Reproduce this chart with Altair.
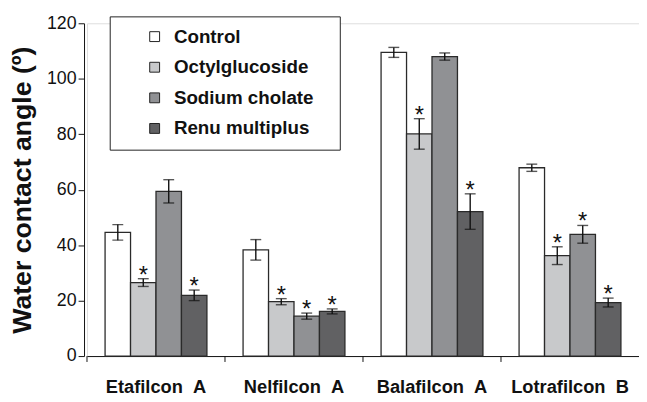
import altair as alt
import pandas as pd

lenses = ["Etafilcon\u00a0\u00a0A", "Nelfilcon\u00a0\u00a0A", "Balafilcon\u00a0\u00a0A", "Lotrafilcon\u00a0\u00a0B"]
treatments = ["Control", "Octylglucoside", "Sodium cholate", "Renu multiplus"]
colors = ["#ffffff", "#c8c9cb", "#909194", "#616163"]

control_mean = [44.6, 38.3, 109.5, 67.9]
control_err = [2.8, 3.7, 1.8, 1.3]
octyl_mean = [26.5, 19.6, 80.1, 36.2]
octyl_err = [1.4, 1.1, 5.5, 3.2]
cholate_mean = [59.4, 14.4, 108.0, 43.9]
cholate_err = [4.2, 1.1, 1.3, 3.2]
renu_mean = [21.9, 16.1, 52.1, 19.3]
renu_err = [1.9, 0.9, 6.4, 1.6]

control_sig = [False, False, False, False]
octyl_sig = [True, True, True, True]
cholate_sig = [False, True, False, True]
renu_sig = [True, True, True, True]

rows = []
for t, m, e, s in zip(
    treatments,
    [control_mean, octyl_mean, cholate_mean, renu_mean],
    [control_err, octyl_err, cholate_err, renu_err],
    [control_sig, octyl_sig, cholate_sig, renu_sig],
):
    for i, lens in enumerate(lenses):
        rows.append({"lens": lens, "treatment": t, "mean": m[i],
                     "lo": m[i] - e[i], "hi": m[i] + e[i],
                     "star": "*" if s[i] else ""})
df = pd.DataFrame(rows)

FONT = "Liberation Sans"
H = 337
W = 559

x_enc = alt.X("lens:N", sort=lenses,
              scale=alt.Scale(paddingInner=0, paddingOuter=0),
              axis=alt.Axis(title=None, ticks=False, labelAngle=0, labelFontSize=18.5,
                            labelFontWeight="bold", labelPadding=22, labelColor="#111",
                            labelFont=FONT, domainColor="#111", domainWidth=1))
xo_enc = alt.XOffset("treatment:N", sort=treatments,
                     scale=alt.Scale(paddingInner=0, paddingOuter=0.71))
y_scale = alt.Scale(domain=[0, 120], nice=False)

base = alt.Chart(df)

bars = base.mark_bar(stroke="#2a2a2a", strokeWidth=1.3).encode(
    x=x_enc,
    xOffset=xo_enc,
    y=alt.Y("mean:Q", scale=y_scale,
            axis=alt.Axis(values=[0, 20, 40, 60, 80, 100, 120], grid=False, tickSize=6,
                          labelFontSize=18, labelPadding=2, labelColor="#111", labelFont=FONT,
                          tickColor="#111", domainColor="#111", offset=3,
                          title="Water contact angle (º)", titleFont=FONT, titleFontSize=27,
                          titleFontWeight="bold", titleColor="#111", titlePadding=10)),
    color=alt.Color("treatment:N", sort=treatments,
                    scale=alt.Scale(domain=treatments, range=colors),
                    legend=alt.Legend(title="\u00a0", titleOrient="right", titleFontSize=17,
                                      titlePadding=16, orient="none", legendX=23, legendY=-7,
                                      symbolType="square", symbolSize=100,
                                      symbolStrokeColor="#222", symbolStrokeWidth=1,
                                      symbolOffset=25, labelOffset=10,
                                      labelFont=FONT, labelFontSize=19, labelFontWeight="bold",
                                      labelColor="#111", rowPadding=11, padding=11,
                                      strokeColor="#222", fillColor="#ffffff")),
)

err = base.mark_rule(color="#111", strokeWidth=1.4).encode(
    x=alt.X("lens:N", sort=lenses), xOffset=xo_enc,
    y=alt.Y("lo:Q", scale=y_scale), y2="hi:Q")

cap_hi = base.mark_tick(color="#111", size=11, thickness=1.4).encode(
    x=alt.X("lens:N", sort=lenses), xOffset=xo_enc, y=alt.Y("hi:Q", scale=y_scale))
cap_lo = base.mark_tick(color="#111", size=11, thickness=1.4).encode(
    x=alt.X("lens:N", sort=lenses), xOffset=xo_enc, y=alt.Y("lo:Q", scale=y_scale))

stars = base.mark_text(font=FONT, fontSize=24, color="#111", baseline="alphabetic", dy=4).encode(
    x=alt.X("lens:N", sort=lenses), xOffset=xo_enc, y=alt.Y("hi:Q", scale=y_scale),
    text="star:N")

lens_df = pd.DataFrame({"lens": lenses})
xticks = alt.Chart(lens_df).mark_rule(color="#111", strokeWidth=1).encode(
    x=alt.X("lens:N", sort=lenses, bandPosition=0),
    y=alt.value(H), y2=alt.value(H + 6))

chart = alt.layer(bars, err, cap_hi, cap_lo, stars, xticks).properties(
    width=W, height=H,
    autosize=alt.AutoSizeParams(type="none"),
    padding={"left": 80, "top": 13, "right": 0, "bottom": 40},
).configure_view(strokeWidth=0).configure(background="white")

chart.save("out.html", embed_options={"renderer": "svg", "actions": False})
